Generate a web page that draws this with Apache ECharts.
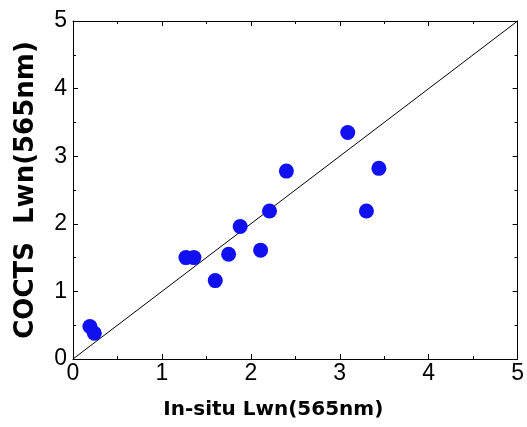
<!DOCTYPE html>
<html>
<head>
<meta charset="utf-8">
<script src="https://cdn.jsdelivr.net/npm/echarts@6/dist/echarts.min.js"></script>
<style>
  html, body { margin: 0; padding: 0; background: #fff; }
  #main { width: 527px; height: 427px; }
</style>
</head>
<body>
<div id="main"></div>
<script>
// in-situ vs COCTS Lwn(565nm)
var insitu = [0.19, 0.24, 1.27, 1.36, 1.60, 1.75, 1.88, 2.11, 2.21, 3.30, 2.40, 3.09, 3.44];
var cocts  = [0.48, 0.38, 1.50, 1.50, 1.16, 1.55, 1.96, 1.61, 2.19, 2.19, 2.78, 3.35, 2.82];
var oneToOne = [0, 5];
var ticks = [0, 1, 2, 3, 4, 5];

var pts = insitu.map(function (x, i) { return [x, cocts[i]]; });
var line = oneToOne.map(function (v) { return [v, v]; });

var font = 'Arial, "Liberation Sans", sans-serif';
var nameFont = '"DejaVu Sans", Arial, sans-serif';

function axis(pos, isX, withLabels) {
    return {
        type: 'value',
        position: pos,
        min: ticks[0],
        max: ticks[ticks.length - 1],
        interval: 1,
        name: withLabels ? (isX ? 'In-situ Lwn(565nm)' : 'COCTS  Lwn(565nm)') : '',
        nameLocation: 'middle',
        nameGap: isX ? 41 : 34,
        nameTextStyle: {
            fontFamily: nameFont, fontWeight: 'bold',
            fontSize: isX ? 20 : 26, color: '#000',
            // x title sits a bit left of the plot centre in the original
            padding: isX ? [0, 44, 0, 0] : 0
        },
        axisLine: { show: true, onZero: false, lineStyle: { color: '#000', width: 1 } },
        axisTick: { show: true, inside: true, length: 5, lineStyle: { color: '#000' } },
        minorTick: { show: true, splitNumber: 2, length: 3, lineStyle: { color: '#000' } },
        splitLine: { show: false },
        axisLabel: {
            show: withLabels,
            fontFamily: font,
            fontSize: 23,
            color: '#000',
            margin: isX ? 3 : 6
        }
    };
}

var chart = echarts.init(document.getElementById('main'));
chart.setOption({
    animation: false,
    backgroundColor: '#fff',
    grid: { left: 73, right: 9, top: 21, bottom: 68 },
    xAxis: [axis('bottom', true, true), axis('top', true, false)],
    yAxis: [axis('left', false, true), axis('right', false, false)],
    series: [
        {
            type: 'line',
            data: line,
            showSymbol: false,
            symbol: 'none',
            lineStyle: { color: '#000', width: 1 },
            z: 1
        },
        {
            type: 'scatter',
            data: pts,
            symbolSize: 15,
            itemStyle: { color: '#1010f0', opacity: 1 },
            z: 2
        }
    ]
});
</script>
</body>
</html>
